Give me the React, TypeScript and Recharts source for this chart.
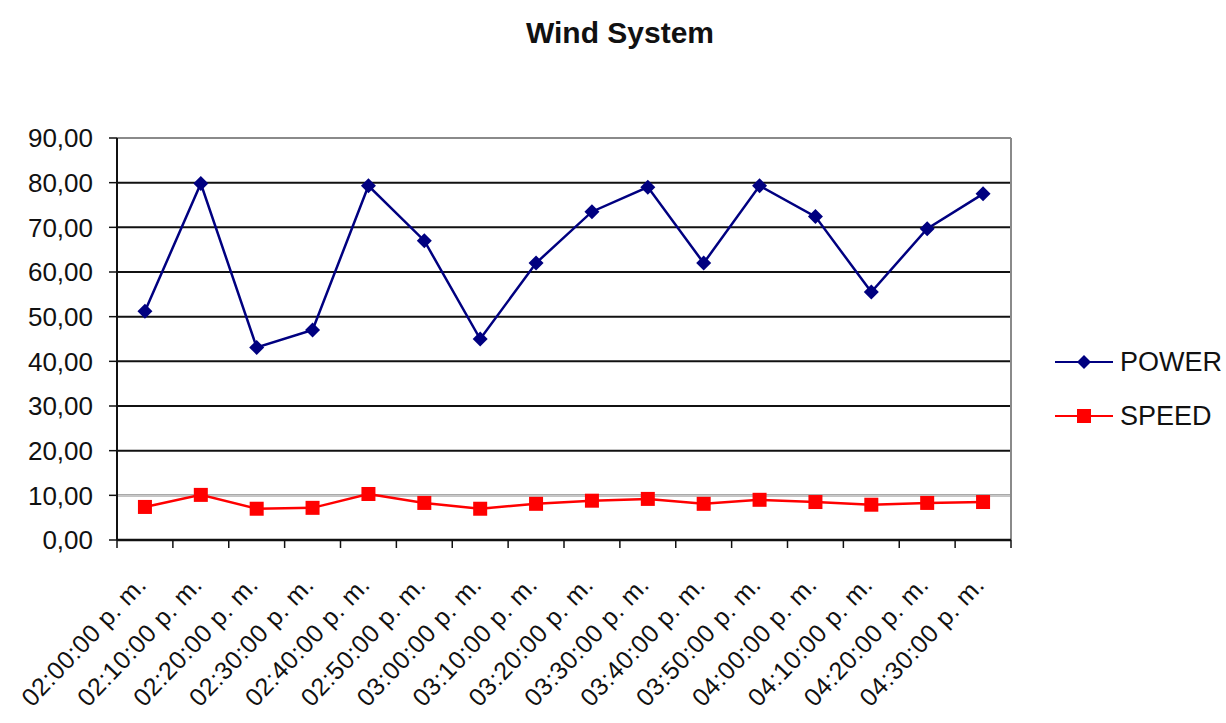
import React from 'react';
import { LineChart, Line, XAxis, YAxis, CartesianGrid, ReferenceLine, Legend } from 'recharts';

const categories = [
  '02:00:00 p. m.', '02:10:00 p. m.', '02:20:00 p. m.', '02:30:00 p. m.',
  '02:40:00 p. m.', '02:50:00 p. m.', '03:00:00 p. m.', '03:10:00 p. m.',
  '03:20:00 p. m.', '03:30:00 p. m.', '03:40:00 p. m.', '03:50:00 p. m.',
  '04:00:00 p. m.', '04:10:00 p. m.', '04:20:00 p. m.', '04:30:00 p. m.',
];
const powerValues = [51.2, 79.8, 43.1, 47.0, 79.3, 67.0, 45.0, 62.0, 73.5, 79.0, 62.0, 79.3, 72.4, 55.5, 69.7, 77.5];
const speedValues = [7.4, 10.1, 7.0, 7.2, 10.3, 8.3, 7.0, 8.1, 8.8, 9.2, 8.1, 9.0, 8.5, 7.9, 8.3, 8.5];
const yTicks = [0, 10, 20, 30, 40, 50, 60, 70, 80, 90];

const POWER_COLOR = '#000080';
const SPEED_COLOR = '#ff0000';
const FONT = '"Liberation Sans", Arial, sans-serif';

const data = categories.map((c, i) => ({ idx: i, label: c, POWER: powerValues[i], SPEED: speedValues[i] }));
const boundaryTicks = categories.map((_, i) => i - 0.5).concat([categories.length - 0.5]);
const labelTicks = categories.map((_, i) => i);
const xDomain = [-0.5, categories.length - 0.5];

const fmt = (v: number) => v.toFixed(2).replace('.', ',');

const Diamond = (props: any) => {
  const { cx, cy } = props;
  if (cx == null || cy == null) return null;
  const r = 7.5;
  return <polygon points={`${cx},${cy - r} ${cx + r},${cy} ${cx},${cy + r} ${cx - r},${cy}`} fill={POWER_COLOR} />;
};
const Square = (props: any) => {
  const { cx, cy } = props;
  if (cx == null || cy == null) return null;
  const s = 14;
  return <rect x={cx - s / 2} y={cy - s / 2} width={s} height={s} fill={SPEED_COLOR} />;
};

const XTick = (props: any) => {
  const { x, y, payload } = props;
  return (
    <g transform={`translate(${x + 3},${y + 38})`}>
      <text x={0} y={0} textAnchor="end" transform="rotate(-46.5)" fontSize={25} letterSpacing={0.6} fontFamily={FONT} fill="#111">
        {categories[payload.value]}
      </text>
    </g>
  );
};

const legendItems = [
  { name: 'POWER', color: POWER_COLOR, shape: 'diamond' },
  { name: 'SPEED', color: SPEED_COLOR, shape: 'square' },
];

const LegendContent = () => (
  <div style={{ fontFamily: FONT, whiteSpace: 'nowrap', width: 180 }}>
    {legendItems.map((it) => (
      <div key={it.name} style={{ display: 'flex', alignItems: 'center', height: 54 }}>
        <svg width={62} height={20} style={{ display: 'block' }}>
          <line x1={0} y1={10} x2={58} y2={10} stroke={it.color} strokeWidth={2} />
          {it.shape === 'diamond' ? (
            <polygon points="29,3 36,10 29,17 22,10" fill={it.color} />
          ) : (
            <rect x={22} y={3} width={14} height={14} fill={it.color} />
          )}
        </svg>
        <span style={{ fontSize: 27, color: '#111', marginLeft: 3 }}>{it.name}</span>
      </div>
    ))}
  </div>
);

export default function App() {
  return (
    <div style={{ position: 'absolute', left: 0, top: 0, width: 1226, height: 723, background: '#fff' }}>
      <div style={{ position: 'absolute', left: 0, top: 16, width: 1240, textAlign: 'center', fontFamily: FONT, fontWeight: 'bold', fontSize: 30, color: '#111' }}>
        Wind System
      </div>
      <LineChart width={1226} height={723} data={data} margin={{ top: 138, right: 214, bottom: 0, left: 0 }}>
        <CartesianGrid horizontal={true} vertical={false} stroke="#111" strokeWidth={2} />
        <XAxis
          type="number"
          dataKey="idx"
          domain={xDomain}
          ticks={boundaryTicks}
          tickFormatter={() => ''}
          tickSize={8}
          height={8}
          axisLine={{ stroke: '#111', strokeWidth: 2.5 }}
          tickLine={{ stroke: '#111', strokeWidth: 1.5 }}
          interval={0}
        />
        <XAxis
          xAxisId="lbl"
          type="number"
          dataKey="idx"
          domain={xDomain}
          ticks={labelTicks}
          tick={<XTick />}
          tickSize={0}
          tickMargin={0}
          height={175}
          axisLine={false}
          tickLine={false}
          interval={0}
        />
        <YAxis
          domain={[0, 90]}
          ticks={yTicks}
          tickFormatter={fmt}
          width={117}
          tickSize={8}
          tickMargin={16}
          axisLine={{ stroke: '#111', strokeWidth: 2 }}
          tickLine={{ stroke: '#111', strokeWidth: 1.5 }}
          tick={{ fontSize: 26, fontFamily: FONT, fill: '#111' }}
          interval={0}
        />
        <ReferenceLine y={90} stroke="#8a8a8a" strokeWidth={2} />
        <ReferenceLine y={10} stroke="#c8c8c8" strokeWidth={2} />
        <ReferenceLine x={categories.length - 0.5} stroke="#8a8a8a" strokeWidth={2} />
        <Legend
          layout="horizontal"
          verticalAlign="middle"
          align="right"
          content={<LegendContent />}
          wrapperStyle={{ position: 'absolute', left: 1055, top: 335, width: 1, height: 1, overflow: 'visible' }}
        />
        <Line type="linear" dataKey="POWER" stroke={POWER_COLOR} strokeWidth={2.5} dot={<Diamond />} activeDot={false} isAnimationActive={false} />
        <Line type="linear" dataKey="SPEED" stroke={SPEED_COLOR} strokeWidth={2.5} dot={<Square />} activeDot={false} isAnimationActive={false} />
      </LineChart>
    </div>
  );
}
